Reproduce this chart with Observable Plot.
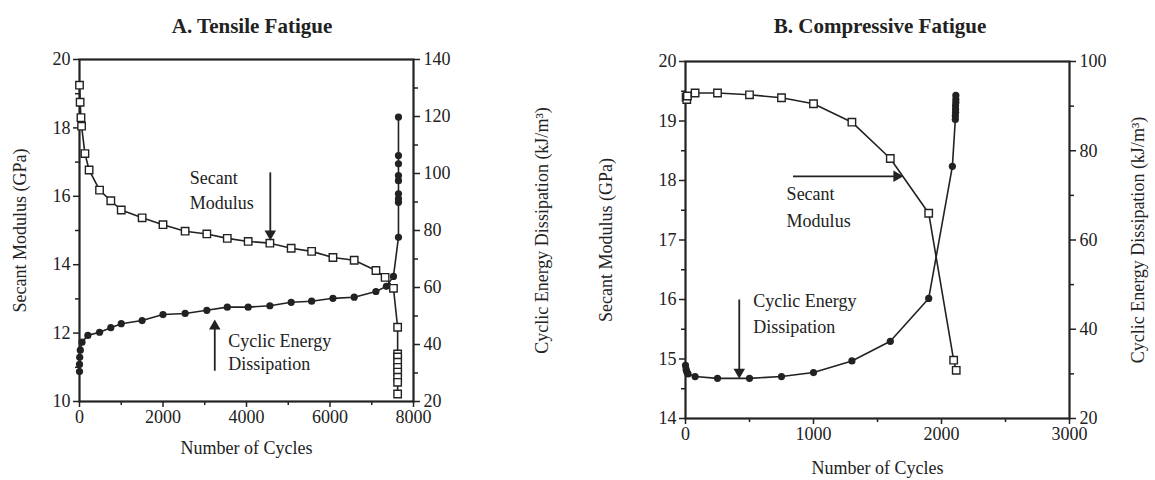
<!DOCTYPE html>
<html><head><meta charset="utf-8">
<script src="https://cdn.jsdelivr.net/npm/d3@7"></script>
<script src="https://cdn.jsdelivr.net/npm/@observablehq/plot@0.6"></script>
<style>
body{margin:0;background:#fff;}
#wrap{position:relative;width:1155px;height:480px;font-family:"Liberation Serif",serif;color:#222;}
.title{position:absolute;top:14px;font-weight:bold;font-size:21px;transform:translateX(-50%);white-space:nowrap;}
.panel{position:absolute;top:40px;height:440px;}
.panel svg{position:absolute;left:0;top:0;overflow:visible;font-family:"Liberation Serif",serif !important;}
.panel svg text, .panel svg g{font-family:"Liberation Serif",serif !important;}
</style></head><body>
<div id="wrap">
 <div class="title" style="left:252px">A. Tensile Fatigue</div>
 <div class="title" style="left:880px">B. Compressive Fatigue</div>
 <div class="panel" id="pa" style="left:0;width:578px"></div>
 <div class="panel" id="pb" style="left:578px;width:577px"></div>
</div>
<script>
const INK = "#222";
const FONT = "Liberation Serif";

// ---------- Panel A: Tensile fatigue ----------
const aModCycles = [0, 15, 35, 50, 130, 230, 480, 750, 1000, 1500, 2000, 2530, 3050, 3540, 4040, 4560, 5070, 5560, 6070, 6580, 7100, 7320, 7520, 7620, 7620, 7620, 7620, 7620, 7620, 7620, 7620, 7620];
const aModulus = [19.25, 18.75, 18.3, 18.05, 17.25, 16.77, 16.18, 15.87, 15.6, 15.37, 15.17, 14.98, 14.9, 14.77, 14.68, 14.63, 14.48, 14.39, 14.21, 14.13, 13.83, 13.63, 13.31, 12.17, 11.39, 11.3, 11.15, 11.0, 10.86, 10.71, 10.56, 10.22];
const aDisCycles = [0, 0, 5, 20, 60, 200, 480, 750, 1000, 1500, 2000, 2530, 3050, 3540, 4040, 4560, 5070, 5560, 6070, 6580, 7100, 7350, 7520, 7640, 7640, 7640, 7640, 7640, 7640, 7640, 7640, 7640];
const aDissipation = [30.5, 33.0, 35.5, 38.0, 40.8, 43.2, 44.3, 45.9, 47.3, 48.4, 50.5, 50.9, 52.0, 53.1, 53.1, 53.6, 54.8, 55.2, 56.2, 56.6, 58.6, 60.4, 63.9, 77.6, 89.9, 91.1, 92.9, 97.5, 99.3, 103.4, 106.3, 119.8];

// ---------- Panel B: Compressive fatigue ----------
const bModCycles = [5, 10, 15, 75, 250, 500, 750, 1000, 1300, 1600, 1900, 2095, 2115];
const bModulus = [19.40, 19.36, 19.42, 19.47, 19.47, 19.44, 19.39, 19.29, 18.98, 18.37, 17.45, 14.98, 14.81];
const bDisCycles = [0, 5, 10, 20, 75, 250, 500, 750, 1000, 1300, 1600, 1900, 2085, 2108, 2108, 2110, 2110, 2110, 2112, 2112, 2112];
const bDissipation = [31.9, 31.0, 30.5, 30.0, 29.4, 29.0, 29.0, 29.4, 30.3, 32.9, 37.3, 46.9, 76.5, 87.0, 87.8, 88.6, 89.3, 90.1, 90.8, 91.5, 92.4];

// ---------- Annotations (data units: cycles, GPa) ----------
const aNoteText = ["Secant", "Modulus", "Cyclic Energy", "Dissipation"];
const aNoteX = [2640, 2640, 3560, 3560];
const aNoteY = [16.52, 15.79, 11.75, 11.1];
const aArrowX = [4570, 3240];
const aArrowY1 = [16.7, 10.9];
const aArrowY2 = [14.9, 12.2];
const aArrowRot = [180, 0];

const bNoteText = ["Secant", "Modulus", "Cyclic Energy", "Dissipation"];
const bNoteX = [790, 790, 530, 530];
const bNoteY = [17.77, 17.32, 15.97, 15.54];
const bArrowX1 = [840, 420];
const bArrowX2 = [1650, 420];
const bArrowY1 = [18.07, 16.0];
const bArrowY2 = [18.07, 14.78];
const bArrowRot = [90, 180];

const rows = (xs, ys) => xs.map((x, i) => ({x, y: ys[i]}));
const intFmt = d => String(d);

function drawPanel(el, cfg) {
  const common = {
    width: cfg.width, height: 440,
    marginLeft: cfg.ml, marginRight: cfg.mr, marginTop: cfg.mt, marginBottom: cfg.mb,
    style: {fontFamily: FONT + ", serif", fontSize: "18px", color: INK, background: "transparent", overflow: "visible"},
    x: {domain: cfg.xDomain, axis: null}
  };
  const mod = rows(cfg.modX, cfg.modY);
  const dis = rows(cfg.disX, cfg.disY);
  const notes = cfg.noteText.map((t, i) => ({t, x: cfg.noteX[i], y: cfg.noteY[i]}));
  const arrows = cfg.arrX1.map((x1, i) => ({x1, x2: cfg.arrX2[i], y1: cfg.arrY1[i], y2: cfg.arrY2[i], r: cfg.arrRot[i]}));
  const ax = {fontFamily: FONT, fontSize: 18, strokeWidth: 1.5, labelArrow: "none"};

  const right = Plot.plot({...common, y: {domain: cfg.yR, axis: null},
    marks: [
      Plot.axisY({...ax, anchor: "right", ticks: cfg.yRTicks, tickFormat: intFmt, tickSize: 6, tickPadding: 4,
        label: "Cyclic Energy Dissipation (kJ/m³)", labelAnchor: "center", labelOffset: cfg.rLabelOffset}),
      Plot.axisY({...ax, anchor: "right", ticks: cfg.yRMinor, tickSize: 4, tickFormat: () => "", label: null}),
      Plot.line(dis, {x: "x", y: "y", stroke: INK, strokeWidth: 1.6}),
      Plot.dot(dis, {x: "x", y: "y", fill: INK, r: 3.6})
    ]});
  const left = Plot.plot({...common, y: {domain: cfg.yL, axis: null},
    marks: [
      Plot.axisX({...ax, ticks: cfg.xTicks, tickFormat: intFmt, tickSize: 6, tickPadding: 3,
        label: "Number of Cycles", labelAnchor: "center", labelOffset: cfg.xLabelOffset}),
      Plot.axisX({...ax, ticks: cfg.xMinor, tickSize: 4, tickFormat: () => "", label: null}),
      Plot.axisY({...ax, ticks: cfg.yLTicks, tickFormat: intFmt, tickSize: 6, tickPadding: 3,
        label: "Secant Modulus (GPa)", labelAnchor: "center", labelOffset: cfg.lLabelOffset}),
      Plot.axisY({...ax, ticks: cfg.yLMinor, tickSize: 4, tickFormat: () => "", label: null}),
      Plot.frame({stroke: INK, strokeWidth: 2.2}),
      Plot.line(mod, {x: "x", y: "y", stroke: INK, strokeWidth: 1.6}),
      Plot.dot(mod, {x: "x", y: "y", symbol: "square", fill: "white", stroke: INK, strokeWidth: 1.4, r: 4.2}),
      Plot.link(arrows, {x1: "x1", x2: "x2", y1: "y1", y2: "y2", stroke: INK, strokeWidth: 1.8}),
      Plot.dot(arrows, {x: "x2", y: "y2", symbol: "triangle2", rotate: "r", fill: INK, r: 5.5}),
      Plot.text(notes, {x: "x", y: "y", text: "t", textAnchor: "start", fontSize: 18, fontFamily: FONT, fill: INK})
    ]});
  el.appendChild(right);
  el.appendChild(left);
}

drawPanel(document.getElementById("pa"), {
  width: 578, ml: 79, mr: 165, mt: 19, mb: 79,
  xDomain: [0, 8000], xTicks: [0, 2000, 4000, 6000, 8000], xMinor: [1000, 3000, 5000, 7000],
  yL: [10, 20], yLTicks: [10, 12, 14, 16, 18, 20], yLMinor: [11, 13, 15, 17, 19],
  yR: [20, 140], yRTicks: [20, 40, 60, 80, 100, 120, 140], yRMinor: [30, 50, 70, 90, 110, 130],
  xLabelOffset: 52, lLabelOffset: 66, rLabelOffset: 134,
  modX: aModCycles, modY: aModulus, disX: aDisCycles, disY: aDissipation,
  noteText: aNoteText, noteX: aNoteX, noteY: aNoteY,
  arrX1: aArrowX, arrX2: aArrowX, arrY1: aArrowY1, arrY2: aArrowY2, arrRot: aArrowRot
});

drawPanel(document.getElementById("pb"), {
  width: 577, ml: 107, mr: 86, mt: 21, mb: 62,
  xDomain: [0, 3000], xTicks: [0, 1000, 2000, 3000], xMinor: [500, 1500, 2500],
  yL: [14, 20], yLTicks: [14, 15, 16, 17, 18, 19, 20], yLMinor: [14.5, 15.5, 16.5, 17.5, 18.5, 19.5],
  yR: [20, 100], yRTicks: [20, 40, 60, 80, 100], yRMinor: [30, 50, 70, 90],
  xLabelOffset: 55, lLabelOffset: 86, rLabelOffset: 74,
  modX: bModCycles, modY: bModulus, disX: bDisCycles, disY: bDissipation,
  noteText: bNoteText, noteX: bNoteX, noteY: bNoteY,
  arrX1: bArrowX1, arrX2: bArrowX2, arrY1: bArrowY1, arrY2: bArrowY2, arrRot: bArrowRot
});
</script>
</body></html>
